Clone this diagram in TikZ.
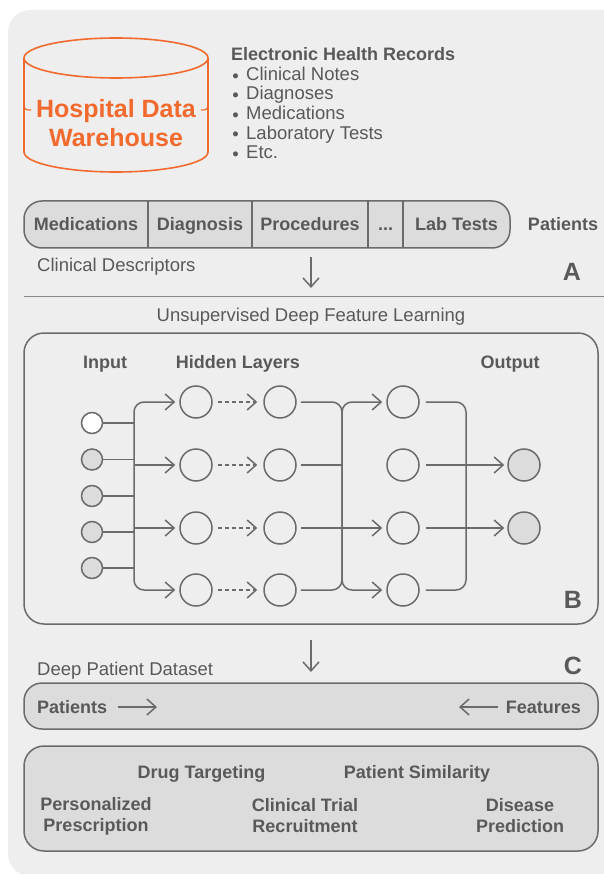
\documentclass[tikz,border=0pt]{standalone}
\usepackage{fontspec}
\setmainfont{Liberation Sans}
\usetikzlibrary{arrows.meta}
\definecolor{bgc}{HTML}{EEEEEE}
\definecolor{boxc}{HTML}{DCDCDC}
\definecolor{linec}{HTML}{6B6B6B}
\definecolor{txtc}{HTML}{595959}
\definecolor{orng}{HTML}{F26A2E}

\begin{document}
\begin{tikzpicture}[x=1pt,y=-1pt,
  ln/.style={draw=linec, line width=1.5pt},
  arr/.style={ln, -{Straight Barb[length=9pt,width=16pt]}},
  labml/.style={text=txtc, font=\fontsize{18}{21}\selectfont\bfseries, inner sep=0pt},
  lab/.style={labml, text height=13pt, text depth=0pt},
  reg/.style={text=txtc, font=\fontsize{18.5}{21}\selectfont, inner sep=0pt, text height=13.3pt, text depth=0pt},
  big/.style={text=txtc, font=\fontsize{25}{28}\selectfont\bfseries, inner sep=0pt, text height=18pt, text depth=0pt},
  panel/.style={draw=linec, line width=1.5pt, fill=boxc, rounded corners=#1, inner sep=0pt},
  frame/.style={draw=linec, line width=1.5pt, rounded corners=#1, inner sep=0pt},
  innode/.style={circle, draw=linec, line width=1.5pt, minimum size=21pt, inner sep=0pt},
  hid/.style={circle, draw=linec, line width=1.5pt, minimum size=32pt, inner sep=0pt},
  dashline/.style={dash pattern=on 4pt off 3pt},
]
% page and background card
\fill[white] (0,0) rectangle (604,874);
\useasboundingbox (0,0) rectangle (604,874);
\fill[bgc, rounded corners=22pt] (8,10) rectangle (626,876);

% ---------- data warehouse cylinder ----------
\begin{scope}[draw=orng, line width=1.6pt]
  \draw (116,58) ellipse [x radius=92, y radius=20];
  \draw (24,58) -- (24,152) .. controls (24,163.05) and (65.2,172) .. (116,172)
        .. controls (166.8,172) and (208,163.05) .. (208,152) -- (208,58);
  \draw[line width=1.1pt] (24,106.5) .. controls (26,110) .. (31,110);
  \draw[line width=1.1pt] (208,106.5) .. controls (206,110) .. (201,110);
\end{scope}
\node[text=orng, font=\fontsize{25}{29}\selectfont\bfseries, inner sep=0pt, align=center]
  (dw) at (116,123) {Hospital Data\\Warehouse};

% ---------- record types ----------
\node[lab, anchor=west] (ehr) at (231,54) {Electronic Health Records};
\foreach \t [count=\i] in {Clinical Notes, Diagnoses, Medications, Laboratory Tests, Etc.} {
  \node[text=txtc, font=\fontsize{18.5}{21}\selectfont, inner sep=0pt, anchor=base]
    (b\i) at (235.5,{54+19.6*\i+8.5}) {\textbullet};
  \node[reg, anchor=west] (r\i) at (246,{54+19.6*\i}) {\t};
}

% ---------- clinical descriptor row ----------
\node[panel=18pt, minimum width=486pt, minimum height=47pt] (row) at (267,224.5) {};
\foreach \xx/\nm in {148/d1, 252/d2, 368/d3, 403/d4}
  \draw[ln] (\xx,201) -- (\xx,248);
\node[lab] (c1) at (86,224.5) {Medications};
\node[lab] (c2) at (200,224.5) {Diagnosis};
\node[lab] (c3) at (310,224.5) {Procedures};
\node[lab] (c4) at (385.5,224.5) {...};
\node[lab] (c5) at (456.5,224.5) {Lab Tests};
\node[lab] (pt) at (563,224.5) {Patients};
\node[reg, anchor=west] (cd) at (37,265) {Clinical Descriptors};
\node[big] (la) at (572,271) {A};
\coordinate (a1s) at (311,257);
\coordinate (a1e) at (311,288);
\draw[arr] (a1s) -- (a1e);

\coordinate (sepL) at (24,296.5);
\coordinate (sepR) at (604,296.5);
\draw[ln, line width=1.2pt, draw=linec!80] (sepL) -- (sepR);
\node[reg] (udl) at (311,315) {Unsupervised Deep Feature Learning};

% ---------- network panel ----------
\node[frame=20pt, minimum width=574pt, minimum height=291pt] (boxB) at (311,478.5) {};
\node[lab] (tin) at (105,362) {Input};
\node[lab] (thl) at (238,362) {Hidden Layers};
\node[lab] (tout) at (510,362) {Output};
\node[big] (lb) at (573,599) {B};

% input units
\node[innode, fill=white] (i1) at (92,423) {};
\node[innode, fill=boxc] (i2) at (92,459.5) {};
\node[innode, fill=boxc] (i3) at (92,496) {};
\node[innode, fill=boxc] (i4) at (92,532) {};
\node[innode, fill=boxc] (i5) at (92,568) {};

% hidden layers and output units
\foreach \yy [count=\k] in {402,465,528,590} {
  \node[hid] (h\k) at (196,\yy) {};
  \node[hid] (g\k) at (280,\yy) {};
  \node[hid] (q\k) at (403,\yy) {};
}
\node[hid, fill=boxc] (o1) at (524,465) {};
\node[hid, fill=boxc] (o2) at (524,528) {};

% input bus
\coordinate (bus1) at (134,496);
\foreach \k in {1,...,5}
  \draw[ln] (i\k) -- (i\k -| bus1);
\draw[arr, rounded corners=10pt, shorten >=4pt] (bus1) |- (h1);
\draw[arr, rounded corners=10pt, shorten >=4pt] (bus1) |- (h4);
\draw[arr, shorten >=4pt] (h2 -| bus1) -- (h2);
\draw[arr, shorten >=4pt] (h3 -| bus1) -- (h3);

% dashed links between hidden layers
\foreach \k in {1,...,4}
  \draw[arr, dashline, shorten <=5pt, shorten >=6pt] (h\k) -- (g\k);

% second bus
\coordinate (bus2) at (342,496);
\draw[ln, rounded corners=10pt] ([xshift=4pt]g1.east) -| (bus2);
\draw[ln, rounded corners=10pt] ([xshift=4pt]g4.east) -| (bus2);
\draw[ln] ([xshift=4pt]g2.east) -- (g2 -| bus2);
\draw[arr, shorten >=4pt] ([xshift=4pt]g3.east) -- (q3);
\draw[arr, rounded corners=10pt, shorten >=4pt] (bus2) |- (q1);
\draw[arr, rounded corners=10pt, shorten >=4pt] (bus2) |- (q4);

% output bus
\coordinate (bus3) at (466,496);
\draw[ln, rounded corners=10pt] ([xshift=6pt]q1.east) -| (bus3);
\draw[ln, rounded corners=10pt] ([xshift=6pt]q4.east) -| (bus3);
\draw[arr, shorten >=3pt] ([xshift=6pt]q2.east) -- (o1);
\draw[arr, shorten >=3pt] ([xshift=6pt]q3.east) -- (o2);

% ---------- deep patient dataset ----------
\coordinate (a2s) at (311,640);
\coordinate (a2e) at (311,672);
\draw[arr] (a2s) -- (a2e);
\node[reg, anchor=west] (dpd) at (37,669) {Deep Patient Dataset};
\node[big] (lc) at (573,665) {C};
\node[panel=18pt, minimum width=574pt, minimum height=46pt] (dset) at (311,706) {};
\node[lab, anchor=west] (pl) at (37,707) {Patients};
\node[lab, anchor=east] (fl) at (581,707) {Features};
\coordinate (pa1) at (118,707);
\coordinate (pa2) at (157,707);
\draw[arr] (pa1) -- (pa2);
\coordinate (fa1) at (498,707);
\coordinate (fa2) at (459,707);
\draw[arr] (fa1) -- (fa2);

% ---------- applications ----------
\node[panel=20pt, minimum width=574pt, minimum height=105pt] (apps) at (311,798.5) {};
\node[lab] (u1) at (201.5,772) {Drug Targeting};
\node[lab] (u2) at (417,772) {Patient Similarity};
\node[labml, align=center] (u3) at (96,816) {Personalized\\Prescription};
\node[labml, align=center] (u4) at (305,816) {Clinical Trial\\Recruitment};
\node[labml, align=center] (u5) at (520,816) {Disease\\Prediction};
\end{tikzpicture}
\end{document}
